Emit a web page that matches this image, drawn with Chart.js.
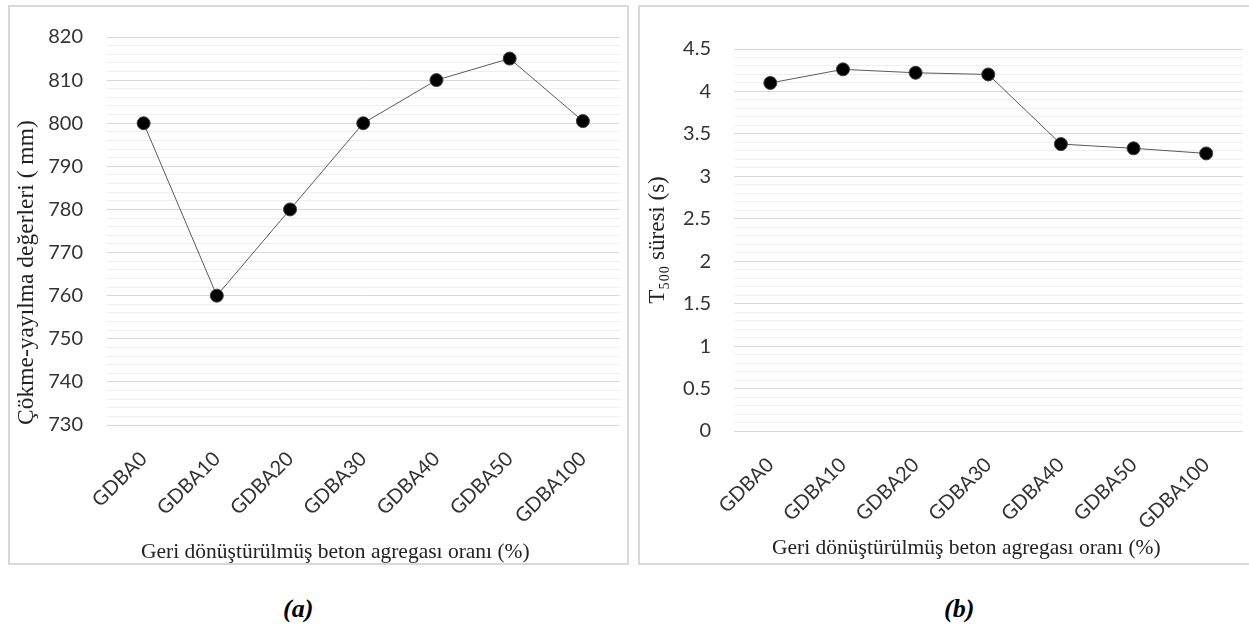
<!DOCTYPE html>
<html>
<head>
<meta charset="utf-8">
<script src="https://cdn.jsdelivr.net/npm/chart.js@4/dist/chart.umd.min.js"></script>
<style>
  html, body { margin: 0; padding: 0; width: 1249px; height: 629px; overflow: hidden; background: #fff; }
  .box { position: absolute; box-sizing: border-box; border: 2px solid #d9d9d9; background: #fff; }
  .box canvas { display: block; }
  .cap { position: absolute; font-family: "Liberation Serif", serif; font-weight: bold; font-style: italic; font-size: 26px; color: #000; }
</style>
</head>
<body>
<div class="box" style="left:8px; top:5px; width:621px; height:560px;">
  <canvas id="chartA" width="617" height="556"></canvas>
</div>
<div class="box" style="left:638px; top:5px; width:614px; height:560px;">
  <canvas id="chartB" width="610" height="556"></canvas>
</div>
<div class="cap" style="left:283px; top:594px;">(a)</div>
<div class="cap" style="left:944px; top:594px;">(b)</div>

<script>
// data
const categories = ["GDBA0", "GDBA10", "GDBA20", "GDBA30", "GDBA40", "GDBA50", "GDBA100"];
const slumpFlow = [800, 760, 780, 800, 810, 815, 800.5];
const t500 = [4.1, 4.26, 4.22, 4.2, 3.38, 3.33, 3.27];
const slumpTickLabels = ["730", "740", "750", "760", "770", "780", "790", "800", "810", "820"];
const t500TickLabels = ["0", "0.5", "1", "1.5", "2", "2.5", "3", "3.5", "4", "4.5"];

const xTitle = "Geri dönüştürülmüş beton agregası oranı (%)";

function findLabel(list, v) {
  const hit = list.find(l => Math.abs(parseFloat(l) - v) < 1e-6);
  return hit === undefined ? "" : hit;
}

// x axis title, Excel puts it a bit left of the plot centre
const xTitlePlugin = {
  id: "xTitleText",
  afterDraw(chart, args, opts) {
    const c = chart.ctx;
    c.save();
    c.font = '21.5px "Liberation Serif"';
    c.fillStyle = "#222";
    c.textAlign = "left";
    c.textBaseline = "middle";
    c.fillText(opts.text, chart.chartArea.left + opts.dx, opts.y);
    c.restore();
  }
};

function makeChart(id, values, tickLabels, yMin, yMax, step, yTitle, cfg) {
  const ctx = document.getElementById(id).getContext("2d");
  return new Chart(ctx, {
    type: "line",
    data: {
      labels: categories,
      datasets: [{
        data: values,
        borderColor: "#595959",
        borderWidth: 1,
        pointRadius: 6.5,
        pointBackgroundColor: "#000",
        pointBorderColor: "#404040",
        pointBorderWidth: 1,
        tension: 0
      }]
    },
    plugins: [xTitlePlugin],
    options: {
      responsive: false,
      animation: false,
      events: [],
      layout: { padding: { top: cfg.padTop, right: 0, left: 0, bottom: 0 } },
      plugins: {
        legend: { display: false },
        tooltip: { enabled: false },
        xTitleText: { text: xTitle, dx: cfg.xTitleDx, y: cfg.xTitleY }
      },
      scales: {
        x: {
          offset: true,
          grid: { display: false },
          border: { display: false },
          ticks: {
            minRotation: 45, maxRotation: 45, autoSkip: false,
            padding: 14,
            color: "#333",
            font: { family: "Lato", size: 20 }
          },
          afterFit: s => {
            s.height = cfg.xHeight;
            s.paddingLeft = 0; s.paddingRight = 0;
          }
        },
        y: {
          min: yMin, max: yMax,
          border: { display: false },
          grid: {
            drawTicks: false,
            color: c => findLabel(tickLabels, c.tick.value) ? "#d9d9d9" : "#eeeeee",
            lineWidth: 1
          },
          ticks: {
            stepSize: step, autoSkip: false,
            padding: cfg.tickPad,
            color: "#333",
            font: { family: "Lato", size: 20 },
            callback: v => findLabel(tickLabels, v)
          },
          title: {
            display: true, text: yTitle, color: "#222",
            align: cfg.titleAlign,
            padding: { top: cfg.titlePad, bottom: 0 },
            font: { family: "Liberation Serif", size: cfg.titleSize }
          },
          afterFit: s => {
            s.width = cfg.yWidth;
            s.paddingTop = 0; s.paddingBottom = 0;
          }
        }
      }
    }
  });
}

makeChart("chartA", slumpFlow, slumpTickLabels, 730, 820, 2,
  "Çökme-yayılma değerleri ( mm)",
  { padTop: 30, xHeight: 138, yWidth: 97, tickPad: 24, titlePad: 3, titleAlign: "start", titleSize: 23.5,
    xTitleDx: 34, xTitleY: 545 });

makeChart("chartB", t500, t500TickLabels, 0, 4.5, 0.1,
  "T₅₀₀ süresi (s)",
  { padTop: 42, xHeight: 132, yWidth: 94, tickPad: 23, titlePad: 4, titleAlign: "center", titleSize: 23,
    xTitleDx: 38, xTitleY: 541 });
</script>
</body>
</html>
